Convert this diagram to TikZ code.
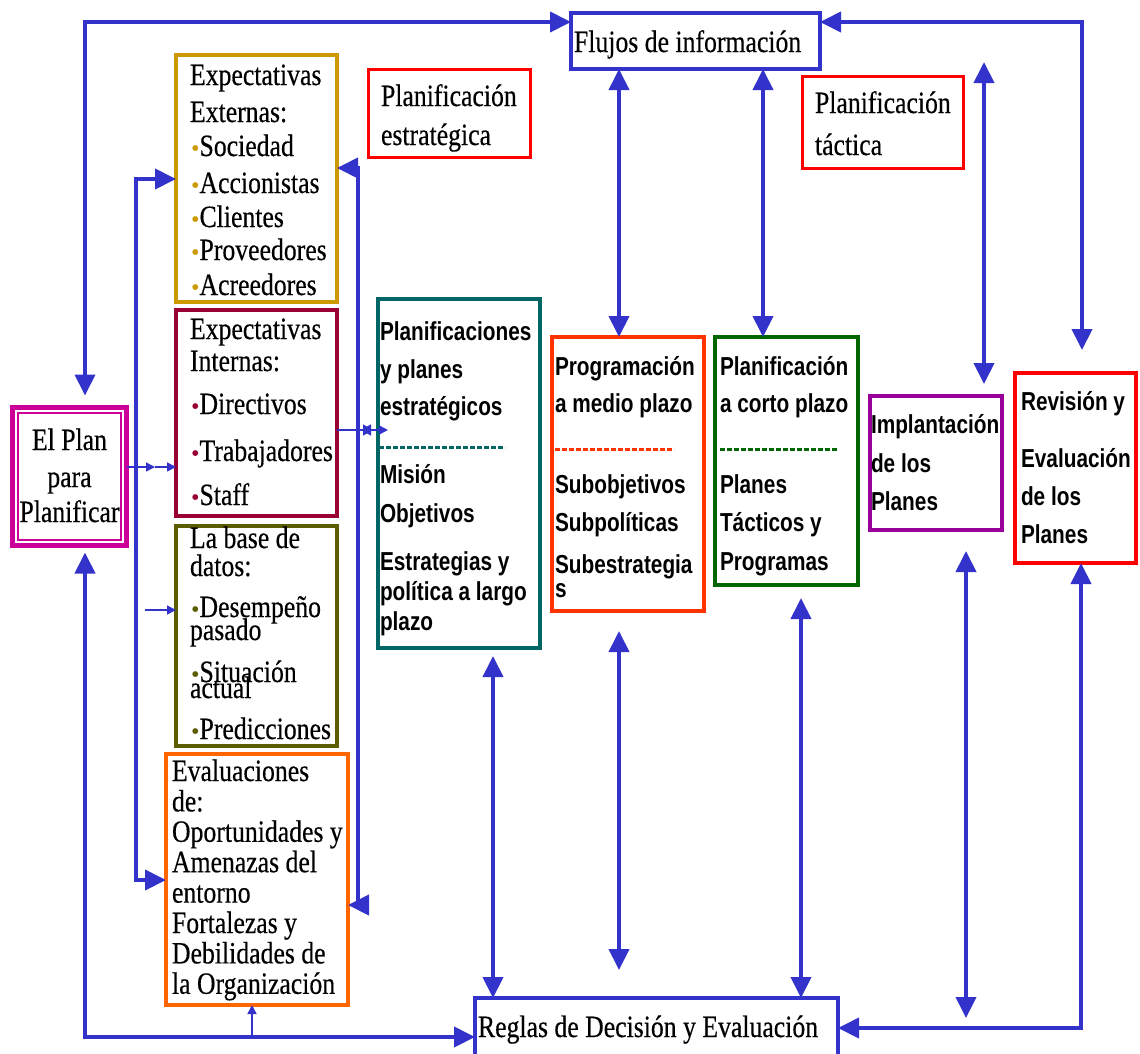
\documentclass[tikz,border=0pt]{standalone}
\usepackage{fontspec}
\setmainfont{Liberation Serif}[FakeStretch=0.83,FakeBold=0.4]
\newfontfamily\sansb{Liberation Sans}[FakeStretch=0.8]
\newfontfamily\dotfont{DejaVu Sans}
\usetikzlibrary{arrows.meta,fit,calc,decorations.markings}
\definecolor{cblue}{HTML}{3333CC}
\definecolor{cgold}{HTML}{CC9900}
\definecolor{cmaroon}{HTML}{990033}
\definecolor{colive}{HTML}{5C5C00}
\definecolor{corange}{HTML}{FF6600}
\definecolor{cmag}{HTML}{CC0099}
\definecolor{cteal}{HTML}{006666}
\definecolor{cprog}{HTML}{FF3300}
\definecolor{cgreen}{HTML}{006600}
\definecolor{cpurple}{HTML}{990099}
\definecolor{cred}{HTML}{FF0000}
\newcommand\txtstack[1]{\vtop{\baselineskip=0pt\lineskiplimit=-\maxdimen\lineskip=0pt\relax #1}}
\newcommand\nxt[2]{\vskip#1\relax\hbox{#2}}
\newcommand\ctr[1]{\hbox to 0pt{\hss#1\hss}}
\newcommand\bul[1]{\kern2pt\textcolor{#1}{\raisebox{6pt}{\dotfont\fontsize{7.5}{7.5}\selectfont ●}}\kern1pt}
\tikzset{
  box/.style={draw, line width=4pt, inner sep=0pt, outer sep=0pt, fill=white},
  serif/.style={font=\fontsize{31}{31}\selectfont, anchor=base west, inner sep=0pt, outer sep=0pt},
  sanst/.style={font=\sansb\bfseries\fontsize{26}{26}\selectfont, anchor=base west, inner sep=0pt, outer sep=0pt},
  bar/.style={draw=cblue, line width=4pt},
  dbl/.style={bar, {Triangle[length=21pt,width=20pt]}-{Triangle[length=21pt,width=20pt]}},
  thinar/.style={draw=cblue, line width=1.5pt, -{Triangle[length=9pt,width=9pt]}},
  sep/.style={line width=3pt, dash pattern=on 5pt off 2pt}
}
\begin{document}
\begin{tikzpicture}[x=1pt,y=-1pt]
\useasboundingbox (0,0) rectangle (1140,1053);
\clip (0,0) rectangle (1140,1053);

% ---------- boxes ----------
\node[box, draw=cblue, fit={(571,13)(820,69)}] (flujos) {};
\node[box, draw=cred, line width=3pt, fit={(368,69)(530,157)}] (estr) {};
\node[box, draw=cred, line width=3pt, fit={(802,76)(963,168)}] (tact) {};
\node[box, draw=cgold, fit={(176,55)(337,302)}] (ext) {};
\node[box, draw=cmaroon, fit={(176,310)(337,516)}] (int) {};
\node[box, draw=colive, fit={(176,526)(337,746)}] (base) {};
\node[box, draw=corange, fit={(166,754)(348,1005)}] (eval) {};
\node[box, draw=cmag, line width=5pt, fit={(12.5,407.5)(126.5,545.5)}] (plan) {};
\draw[cmag, line width=1.6pt] ($(plan.north west)+(5.5,5.5)$) rectangle ($(plan.south east)+(-5.5,-5.5)$);
\node[box, draw=cteal, fit={(378,299)(540,648)}] (plane) {};
\node[box, draw=cprog, fit={(552,337)(704,611)}] (prog) {};
\node[box, draw=cgreen, fit={(715,337)(858,585)}] (corto) {};
\node[box, draw=cpurple, fit={(870,396)(1002,530)}] (impl) {};
\node[box, draw=cred, fit={(1015,373)(1136,563)}] (rev) {};
\node[box, draw=cblue, fit={(475,998)(838,1090)}] (reglas) {};

% ---------- texts ----------
\node[serif] (flujosT) at (574,52) {Flujos de información};
\node[serif] (estrT) at (381,106) {\txtstack{\hbox{Planificación}\nxt{39pt}{estratégica}}};
\node[serif] (tactT) at (815,113) {\txtstack{\hbox{Planificación}\nxt{42pt}{táctica}}};
\node[serif] (extT) at (190,85) {\txtstack{\hbox{Expectativas}\nxt{37pt}{Externas:}%
  \nxt{34pt}{\bul{cgold}Sociedad}\nxt{37pt}{\bul{cgold}Accionistas}\nxt{34pt}{\bul{cgold}Clientes}%
  \nxt{33pt}{\bul{cgold}Proveedores}\nxt{35pt}{\bul{cgold}Acreedores}}};
\node[serif] (intT) at (190,339) {\txtstack{\hbox{Expectativas}\nxt{32pt}{Internas:}%
  \nxt{43pt}{\bul{cmaroon}Directivos}\nxt{47pt}{\bul{cmaroon}Trabajadores}\nxt{44pt}{\bul{cmaroon}Staff}}};
\node[serif] (baseT) at (190,548) {\txtstack{\hbox{La base de}\nxt{28pt}{datos:}%
  \nxt{41pt}{\bul{colive}Desempeño}\nxt{23pt}{pasado}\nxt{42pt}{\bul{colive}Situación}%
  \nxt{16pt}{actual}\nxt{41pt}{\bul{colive}Predicciones}}};
\node[serif] (evalT) at (172,781) {\txtstack{\hbox{Evaluaciones}\nxt{30.4pt}{de:}%
  \nxt{30.4pt}{Oportunidades y}\nxt{30.4pt}{Amenazas del}\nxt{30.4pt}{entorno}%
  \nxt{30.4pt}{Fortalezas y}\nxt{30.4pt}{Debilidades de}\nxt{30.4pt}{la Organización}}};
\node[serif, anchor=base] (planT) at (69.5,450) {\txtstack{\ctr{El Plan}\nxt{37pt}{\ctr{para}}\nxt{35pt}{\ctr{Planificar}}}};
\node[serif] (reglasT) at (478,1037) {Reglas de Decisión y Evaluación};

\node[sanst] (planeT) at (380,340) {\txtstack{\hbox{Planificaciones}\nxt{38pt}{y planes}\nxt{37pt}{estratégicos}%
  \nxt{68pt}{Misión}\nxt{39pt}{Objetivos}\nxt{48pt}{Estrategias y}\nxt{30pt}{política a largo}\nxt{30pt}{plazo}}};
\node[sanst] (progT) at (555,375) {\txtstack{\hbox{Programación}\nxt{37pt}{a medio plazo}%
  \nxt{81pt}{Subobjetivos}\nxt{38pt}{Subpolíticas}\nxt{42pt}{Subestrategia}\nxt{24pt}{s}}};
\node[sanst] (cortoT) at (720,375) {\txtstack{\hbox{Planificación}\nxt{37pt}{a corto plazo}%
  \nxt{81pt}{Planes}\nxt{38pt}{Tácticos y}\nxt{39pt}{Programas}}};
\node[sanst] (implT) at (871,433) {\txtstack{\hbox{Implantación}\nxt{39pt}{de los}\nxt{38pt}{Planes}}};
\node[sanst] (revT) at (1021,410) {\txtstack{\hbox{Revisión y}\nxt{57pt}{Evaluación}\nxt{38pt}{de los}\nxt{38pt}{Planes}}};

% ---------- dashed separators ----------
\draw[sep, cteal] (379,447) -- (505,447);
\draw[sep, cprog] (555,449) -- (674,449);
\draw[sep, cgreen] (720,449) -- (838,449);

% ---------- coordinates ----------
\coordinate (tl) at (85,22);
\coordinate (tr) at (1082,22);
\coordinate (bl) at (85,1037);
\coordinate (br) at (1081,1028);
\coordinate (c1) at (619,0);
\coordinate (c2) at (763,0);
\coordinate (c3) at (984,62);
\coordinate (c4) at (493,0);
\coordinate (c5) at (801,0);
\coordinate (c6) at (966,1018);
\coordinate (lb1) at (136,179);
\coordinate (lb2) at (136,880);
\coordinate (rb1) at (358,168);
\coordinate (rb2) at (358,905);
\coordinate (ev0) at (252,1037);
\coordinate (pl1) at (155,467);
\coordinate (bd0) at (145,610);
\coordinate (ip) at (388,430);

% ---------- connectors ----------
\draw[dbl, shorten <=12pt] (plan.north -| tl) -- (tl) -- (flujos.west |- tl);
\draw[dbl, shorten >=23pt] (flujos.east |- tr) -- (tr) -- (rev.north -| tr);
\draw[dbl] (flujos.south -| c1) -- (prog.north -| c1);
\draw[dbl] (flujos.south -| c2) -- (corto.north -| c2);
\draw[dbl, shorten >=12pt] (c3) -- (impl.north -| c3);
\draw[dbl, shorten <=8pt] (plane.south -| c4) -- (reglas.north -| c4);
\draw[dbl, shorten <=20pt, shorten >=28pt] (prog.south -| c1) -- (reglas.north -| c1);
\draw[dbl, shorten <=13pt] (corto.south -| c5) -- (reglas.north -| c5);
\draw[dbl, shorten <=21pt] (impl.south -| c6) -- (c6);
\draw[dbl] (rev.south -| br) -- (br) -- (reglas.east |- br);
\draw[dbl, shorten <=7pt] (plan.south -| bl) -- (bl) -- (reglas.west |- bl);
\draw[dbl] (ext.west |- lb1) -- (lb1) -- (lb2) -- (eval.west |- lb2);
\draw[dbl] (ext.east |- rb1) -- (rb1) -- (rb2) -- (eval.east |- rb2);

\draw[thinar] (plan.east |- pl1) -- (pl1);
\draw[thinar] (pl1) -- (int.west |- pl1);
\draw[thinar] (bd0) -- (base.west |- bd0);
\draw[thinar] (ev0) -- (eval.south -| ev0);
\draw[thinar, postaction={decorate, decoration={markings,
    mark=at position 24pt with {\arrowreversed{Triangle[length=10pt,width=11pt]}},
    mark=at position 36pt with {\arrow{Triangle[length=10pt,width=11pt]}}}}]
  (int.east |- ip) -- (ip);
\end{tikzpicture}
\end{document}
